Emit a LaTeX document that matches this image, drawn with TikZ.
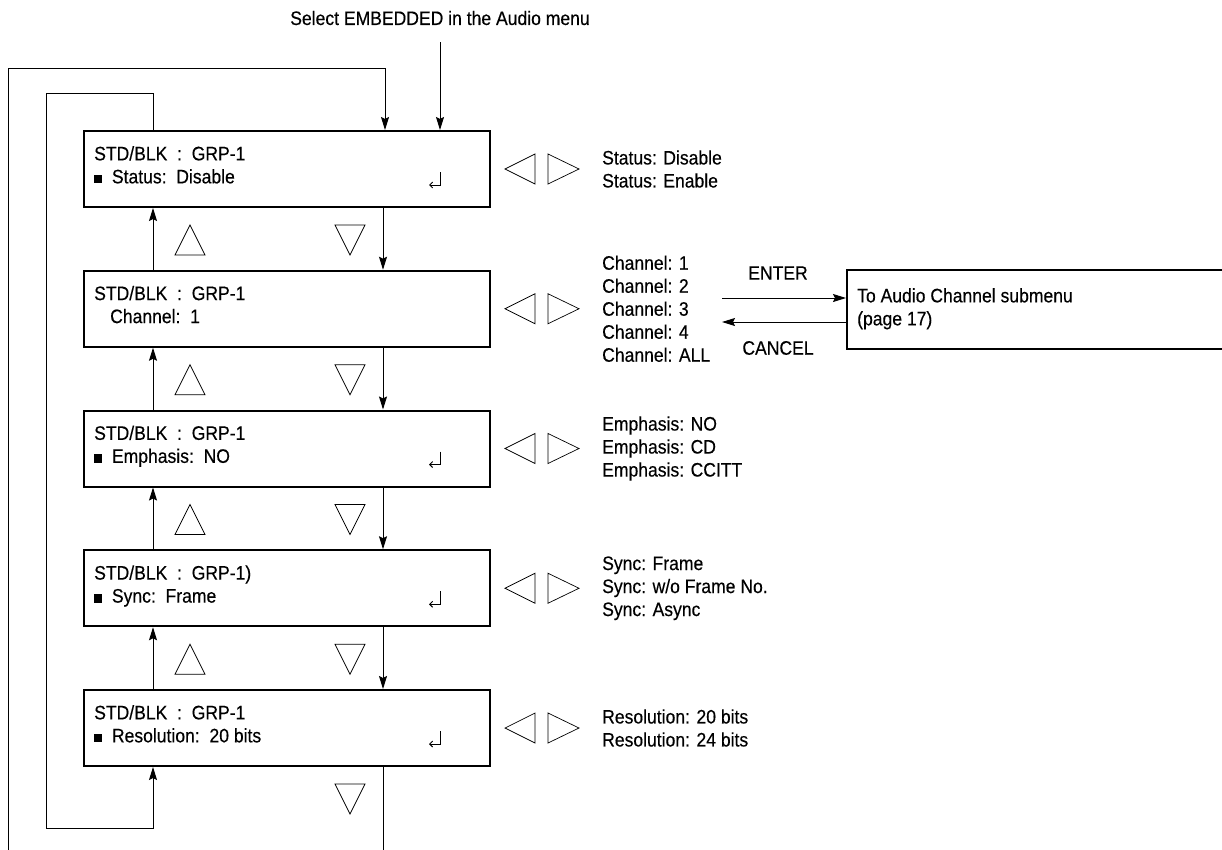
\documentclass[tikz,border=0pt]{standalone}
\usepackage{fontspec}
\setmainfont{Liberation Sans}[FakeStretch=0.9,FakeBold=0.35]
\usetikzlibrary{arrows.meta,positioning}
\newcommand{\sqmark}{\rule{8pt}{8.5pt}}

\begin{document}
\begin{tikzpicture}[x=1pt,y=-1pt,
  menubox/.style={draw,line width=2pt,minimum width=406pt,minimum height=76pt,inner sep=0pt},
  menutext/.style={anchor=north west,align=left,inner sep=0pt,font=\fontsize{19.5}{23}\selectfont},
  opttext/.style={anchor=west,align=left,inner sep=0pt,font=\fontsize{19.5}{23}\selectfont},
  keytext/.style={inner sep=0pt,font=\fontsize{19.5}{23}\selectfont},
  conn/.style={line width=0.9pt,-{Stealth[length=13pt,width=8pt,inset=2pt]}},
  plain/.style={line width=0.9pt},
  tri/.style={line width=0.7pt},
  retarrow/.style={line width=0.9pt,-{Straight Barb[length=3pt,width=6pt]}}]
\useasboundingbox (0,0) rectangle (1222,849);

% menu boxes
\foreach \i/\y in {1/169,2/308.75,3/448.5,4/588.25,5/728}
  {\node[menubox] (b\i) at (287,\y) {};
   \coordinate (g\i) at ([yshift=-32pt]b\i.south);}

% texts in the boxes
\foreach \i/\txt in {1/{\sqmark\ \ Status:\ \ Disable},
                     2/{\hspace*{16pt}Channel:\ \ 1},
                     3/{\sqmark\ \ Emphasis:\ \ NO},
                     5/{\sqmark\ \ Resolution:\ \ 20 bits}}
  {\node[menutext] (t\i) at ([shift={(11,16)}]b\i.north west) {STD/BLK\ \ :\ \ GRP-1\\\txt};}
\node[menutext] (t4) at ([shift={(11,16)}]b4.north west) {STD/BLK\ \ :\ \ GRP-1)\\\sqmark\ \ Sync:\ \ Frame};

% return marks
\foreach \i in {1,3,4,5}
  {\draw[retarrow] ([shift={(-51,-36)}]b\i.south east) -- ([shift={(-51,-23)}]b\i.south east)
     -- ([shift={(-62,-23)}]b\i.south east);}

% left / right keys and choices
\foreach \i/\opts in {1/{Status: Disable\\Status: Enable},
                      2/{Channel: 1\\Channel: 2\\Channel: 3\\Channel: 4\\Channel: ALL},
                      3/{Emphasis: NO\\Emphasis: CD\\Emphasis: CCITT},
                      4/{Sync: Frame\\Sync: w/o Frame No.\\Sync: Async},
                      5/{Resolution: 20 bits\\Resolution: 24 bits}}
  {\draw[tri] ([shift={(44,-15)}]b\i.east) -- ([shift={(14,0)}]b\i.east) -- ([shift={(44,15)}]b\i.east) -- cycle;
   \draw[tri] ([shift={(57,-15)}]b\i.east) -- ([shift={(88,0)}]b\i.east) -- ([shift={(57,15)}]b\i.east) -- cycle;
   \node[opttext] (o\i) at ([xshift=111pt]b\i.east) {\opts};}

% up / down keys between the boxes
\foreach \i/\j in {1/2,2/3,3/4,4/5}
  {\draw[conn] ([xshift=-134pt]b\j.north) -- ([xshift=-134pt]b\i.south);
   \draw[conn] ([xshift=96pt]b\i.south) -- ([xshift=96pt]b\j.north);
   \draw[tri] ([shift={(-112,15)}]g\i) -- ([shift={(-97,-15)}]g\i) -- ([shift={(-82,15)}]g\i) -- cycle;}
\foreach \i in {1,...,5}
  {\draw[tri] ([shift={(48,-15)}]g\i) -- ([shift={(63,15)}]g\i) -- ([shift={(78,-15)}]g\i) -- cycle;}

% entry from the Audio menu
\node[keytext] (select) at (440,18) {Select EMBEDDED in the Audio menu};
\draw[conn] ([yshift=-24pt]select.center) -- (select.center |- b1.north);

% loops round the menu
\coordinate (outerfoot) at (8,860);
\coordinate (exitfoot) at ([xshift=96pt]b5.south |- outerfoot);
\draw[conn] (outerfoot) |- (385,68) -- (385,68 |- b1.north);
\draw[conn] ([xshift=-134pt]b1.north) -- ++(0,-37) -| (46,828) -| ([xshift=-134pt]b5.south);
\draw[plain] ([xshift=96pt]b5.south) -- (exitfoot);

% audio channel submenu
\node[menubox,minimum width=400pt,minimum height=79pt,anchor=north west] (sub) at (846,269) {};
\node[menutext] (subtext) at ([shift={(11,19)}]sub.north west) {To Audio Channel submenu\\(page 17)};
\coordinate (enterfrom) at (722,298);
\coordinate (cancelto) at (722,322);
\draw[conn] (enterfrom) -- (enterfrom -| sub.west);
\draw[conn] (cancelto -| sub.west) -- (cancelto);
\node[keytext] (enter) at (778,273) {ENTER};
\node[keytext] (cancel) at (778,348) {CANCEL};
\end{tikzpicture}
\end{document}
